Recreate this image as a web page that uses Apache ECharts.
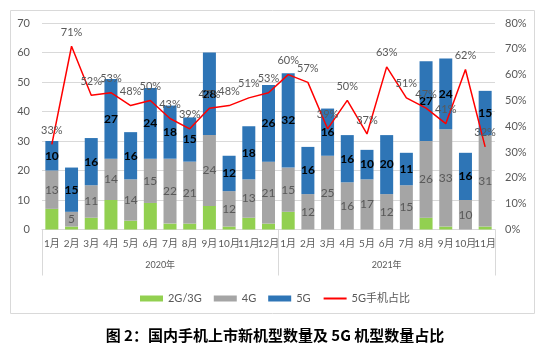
<!DOCTYPE html>
<html>
<head>
<meta charset="utf-8">
<script src="https://cdn.jsdelivr.net/npm/echarts@6/dist/echarts.min.js"></script>
<style>
  html, body { margin: 0; padding: 0; background: #fff; }
  #chart { width: 550px; height: 351px; }
</style>
</head>
<body>
<div id="chart"></div>
<script>
// categories: 2020年 1-12月, 2021年 1-11月
const months = ['1月','2月','3月','4月','5月','6月','7月','8月','9月','10月','11月','12月',
  '1月','2月','3月','4月','5月','6月','7月','8月','9月','10月','11月'];
const years = ['2020年', '2021年'];

// new phone models per month
const g23 = [7, 1, 4, 10, 3, 9, 2, 2, 8, 1, 4, 2, 6, 0, 0, 0, 0, 0, 0, 4, 1, 0, 1];
const g4  = [13, 5, 11, 14, 14, 15, 22, 21, 24, 12, 13, 21, 15, 12, 25, 16, 17, 12, 15, 26, 33, 10, 31];
const g5  = [10, 15, 16, 27, 16, 24, 18, 15, 28, 12, 18, 26, 32, 16, 16, 16, 10, 20, 11, 27, 24, 16, 15];
// 5G share (%)
const share5g = [33, 71, 52, 53, 48, 50, 43, 39, 47, 48, 51, 53, 60, 57, 39, 50, 37, 63, 51, 47, 41, 62, 32];

const FONT = 'Lato, "Noto Sans CJK SC", sans-serif';
const GREY_TXT = '#595959';

const chart = echarts.init(document.getElementById('chart'));

chart.setOption({
  animation: false,
  textStyle: { fontFamily: FONT },
  title: {
    text: '图 2：国内手机上市新机型数量及 5G 机型数量占比',
    left: 'center',
    top: 323,
    textStyle: { fontSize: 15, fontWeight: 'bold', color: '#000', fontFamily: '"Noto Sans CJK SC", sans-serif' }
  },
  graphic: [{
    type: 'rect',
    shape: { x: 10.5, y: 10.5, width: 524, height: 303 },
    style: { fill: 'none', stroke: '#D9D9D9', lineWidth: 1 },
    silent: true
  }],
  legend: {
    top: 288,
    left: 'center',
    itemWidth: 23,
    itemHeight: 6,
    itemGap: 12,
    textStyle: { color: GREY_TXT, fontSize: 11 },
    data: [
      { name: '2G/3G', icon: 'rect' },
      { name: '4G', icon: 'rect' },
      { name: '5G', icon: 'rect' },
      { name: '5G手机占比' }
    ]
  },
  grid: { left: 42, right: 55, top: 23, bottom: 121.5 },
  xAxis: [{
    type: 'category',
    data: months,
    axisLine: { lineStyle: { color: '#D9D9D9' } },
    axisTick: { show: false },
    axisLabel: { color: GREY_TXT, fontSize: 10, margin: 9, interval: 0 }
  }, {
    type: 'value',
    min: -0.5,
    max: 22.5,
    position: 'bottom',
    axisLine: { show: false },
    splitLine: { show: false },
    axisTick: {
      show: true,
      length: 46,
      customValues: [-0.5, 11.5, 22.5],
      lineStyle: { color: '#D9D9D9' }
    },
    axisLabel: {
      customValues: [5.5, 17],
      formatter: v => (v < 11.5 ? years[0] : years[1]),
      color: GREY_TXT,
      fontSize: 9,
      margin: 31
    }
  }],
  yAxis: [{
    type: 'value',
    min: 0,
    max: 70,
    interval: 10,
    axisLine: { show: false },
    axisTick: { show: false },
    axisLabel: { color: GREY_TXT, fontSize: 11, margin: 12 },
    splitLine: { lineStyle: { color: '#D9D9D9' } }
  }, {
    type: 'value',
    min: 0,
    max: 80,
    interval: 10,
    axisLine: { show: false },
    axisTick: { show: false },
    axisLabel: { color: GREY_TXT, fontSize: 11, margin: 10, formatter: '{value}%' },
    splitLine: { show: false }
  }],
  series: [{
    name: '2G/3G',
    type: 'bar',
    stack: 'n',
    barWidth: '66%',
    itemStyle: { color: '#92D050' },
    data: g23
  }, {
    name: '4G',
    type: 'bar',
    stack: 'n',
    itemStyle: { color: '#A5A5A5' },
    label: { show: true, position: 'inside', color: GREY_TXT, fontSize: 12 },
    data: g4
  }, {
    name: '5G',
    type: 'bar',
    stack: 'n',
    itemStyle: { color: '#2E75B6' },
    label: { show: true, position: 'inside', color: '#000', fontSize: 12, fontWeight: 'bold' },
    data: g5
  }, {
    name: '5G手机占比',
    type: 'line',
    yAxisIndex: 1,
    symbol: 'circle',
    symbolSize: 1,
    showSymbol: true,
    z: 5,
    lineStyle: { color: '#FF0000', width: 1.5 },
    itemStyle: { color: '#FF0000', opacity: 0 },
    label: {
      show: true,
      position: 'top',
      distance: 8,
      opacity: 1,
      color: GREY_TXT,
      fontSize: 11,
      formatter: p => p.value + '%'
    },
    labelLayout: { hideOverlap: false },
    data: share5g
  }]
});
</script>
</body>
</html>
